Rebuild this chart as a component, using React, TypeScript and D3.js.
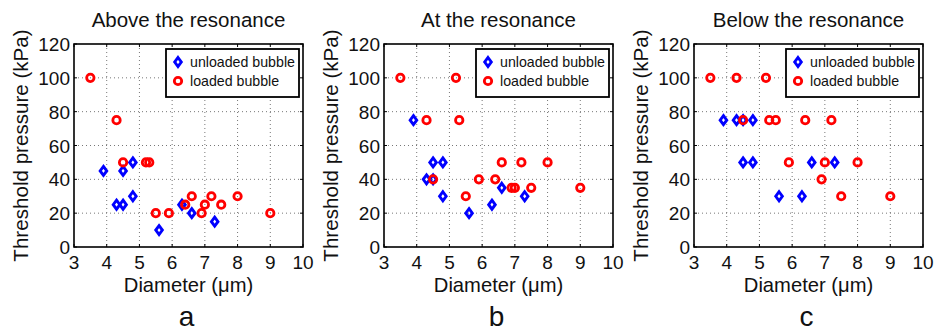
import React from "react";
import * as d3 from "d3";

const diameterTicks = [3, 4, 5, 6, 7, 8, 9, 10];
const pressureTicks = [0, 20, 40, 60, 80, 100, 120];

const unloadedDiameters = [3.9, 4.3, 4.5, 4.5, 4.8, 4.8, 5.6, 6.3, 6.6, 7.3];

const aboveUnloadedP = [45, 25, 25, 45, 50, 30, 10, 25, 20, 15];
const aboveLoadedD = [3.5, 4.3, 4.5, 5.2, 5.3, 5.5, 5.9, 6.4, 6.6, 6.9, 7.0, 7.2, 7.5, 8.0, 9.0];
const aboveLoadedP = [100, 75, 50, 50, 50, 20, 20, 25, 30, 20, 25, 30, 25, 30, 20];

const atUnloadedP = [75, 40, 40, 50, 50, 30, 20, 25, 35, 30];
const atLoadedD = [3.5, 4.3, 4.5, 5.2, 5.3, 5.5, 5.9, 6.4, 6.6, 6.9, 7.0, 7.2, 7.5, 8.0, 9.0];
const atLoadedP = [100, 75, 40, 100, 75, 30, 40, 40, 50, 35, 35, 50, 35, 50, 35];

const belowUnloadedP = [75, 75, 75, 50, 75, 50, 30, 30, 50, 50];
const belowLoadedD = [3.5, 4.3, 4.5, 5.2, 5.3, 5.5, 5.9, 6.4, 6.9, 7.0, 7.2, 7.5, 8.0, 9.0];
const belowLoadedP = [100, 100, 75, 100, 75, 75, 50, 75, 40, 50, 75, 30, 50, 30];

const titles = ["Above the resonance", "At the resonance", "Below the resonance"];
const letters = ["a", "b", "c"];
const legendLabels = ["unloaded bubble", "loaded bubble"];

const panels = [
  { uD: unloadedDiameters, uP: aboveUnloadedP, lD: aboveLoadedD, lP: aboveLoadedP },
  { uD: unloadedDiameters, uP: atUnloadedP, lD: atLoadedD, lP: atLoadedP },
  { uD: unloadedDiameters, uP: belowUnloadedP, lD: belowLoadedD, lP: belowLoadedP },
];

const FONT = "'Liberation Sans', Arial, sans-serif";
const INK = "#111";
const W = 229;
const H = 203;
const TOP = 44;
const LEFTS = [74, 384, 694];

function Diamond({ x, y }: { x: number; y: number }) {
  const hw = 3.3, hh = 4.5;
  return (
    <path
      d={`M${x},${y - hh}L${x + hw},${y}L${x},${y + hh}L${x - hw},${y}Z`}
      fill="none"
      stroke="#0000ff"
      strokeWidth={2.9}
    />
  );
}

function Ring({ x, y }: { x: number; y: number }) {
  return <circle cx={x} cy={y} r={3.7} fill="none" stroke="#ff0000" strokeWidth={2.8} />;
}

function Panel({ idx }: { idx: number }) {
  const left = LEFTS[idx];
  const p = panels[idx];
  const x = d3.scaleLinear().domain([3, 10]).range([0, W]);
  const y = d3.scaleLinear().domain([0, 120]).range([H, 0]);
  const cx = W / 2;
  return (
    <g transform={`translate(${left},${TOP})`}>
      {diameterTicks.slice(1, -1).map((t) => (
        <line key={"gx" + t} x1={x(t)} x2={x(t)} y1={0} y2={H} stroke="#777" strokeWidth={1} strokeDasharray="1,3" />
      ))}
      {pressureTicks.slice(1, -1).map((t) => (
        <line key={"gy" + t} x1={0} x2={W} y1={y(t)} y2={y(t)} stroke="#777" strokeWidth={1} strokeDasharray="1,3" />
      ))}
      {diameterTicks.map((t) => (
        <g key={"tx" + t}>
          <line x1={x(t)} x2={x(t)} y1={H} y2={H - 3} stroke="#000" />
          <line x1={x(t)} x2={x(t)} y1={0} y2={3} stroke="#000" />
        </g>
      ))}
      {pressureTicks.map((t) => (
        <g key={"ty" + t}>
          <line x1={0} x2={3} y1={y(t)} y2={y(t)} stroke="#000" />
          <line x1={W} x2={W - 3} y1={y(t)} y2={y(t)} stroke="#000" />
        </g>
      ))}
      {p.uD.map((d, i) => (
        <Diamond key={"u" + i} x={x(d)} y={y(p.uP[i])} />
      ))}
      {p.lD.map((d, i) => (
        <Ring key={"l" + i} x={x(d)} y={y(p.lP[i])} />
      ))}
      <rect x={0} y={0} width={W} height={H} fill="none" stroke="#000" strokeWidth={1.6} />
      {diameterTicks.map((t) => (
        <text key={"lx" + t} x={x(t)} y={H + 22} textAnchor="middle" fontSize={19} fontFamily={FONT} fill={INK}>
          {t}
        </text>
      ))}
      {pressureTicks.map((t) => (
        <text key={"ly" + t} x={-4} y={y(t) + 7} textAnchor="end" fontSize={19} fontFamily={FONT} fill={INK}>
          {t}
        </text>
      ))}
      <g transform={`translate(${W - 137},5)`}>
        <rect x={0} y={0} width={133} height={48} fill="#fff" stroke="#000" strokeWidth={1.8} />
        <Diamond x={12} y={13} />
        <Ring x={12} y={32} />
        <text x={24} y={18} fontSize={14.2} fontFamily={FONT} fill={INK}>{legendLabels[0]}</text>
        <text x={24} y={37} fontSize={14.2} fontFamily={FONT} fill={INK}>{legendLabels[1]}</text>
      </g>
      <text x={cx} y={-17} textAnchor="middle" fontSize={20.5} fontFamily={FONT} fill={INK}>
        {titles[idx]}
      </text>
      <text x={cx} y={H + 45} textAnchor="middle" fontSize={20.2} fontFamily={FONT} fill={INK}>
        Diameter (μm)
      </text>
      <text
        transform={`translate(${-46},${H / 2}) rotate(-90)`}
        textAnchor="middle"
        fontSize={20.6}
        fontFamily={FONT}
        fill={INK}
      >
        Threshold pressure (kPa)
      </text>
      <text x={cx - 2} y={H + 79} textAnchor="middle" fontSize={28} fontFamily={FONT} fill={INK}>
        {letters[idx]}
      </text>
    </g>
  );
}

export default function App() {
  return (
    <svg width={935} height={331} style={{ position: "absolute", left: 0, top: 0, background: "#fff" }}>
      <rect width={935} height={331} fill="#fff" />
      {[0, 1, 2].map((i) => (
        <Panel key={i} idx={i} />
      ))}
    </svg>
  );
}
